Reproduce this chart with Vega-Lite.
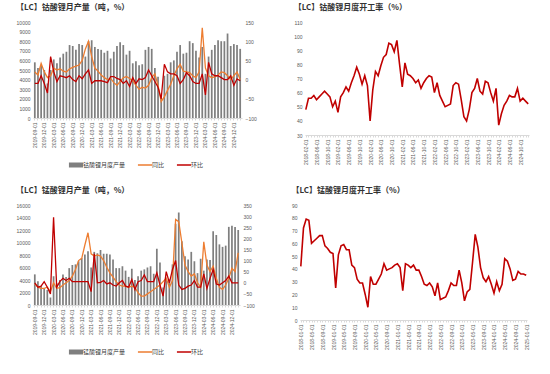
{
"$schema": "https://vega.github.io/schema/vega-lite/v6.json",
"padding": {"left": 16, "top": 4, "right": 4, "bottom": 2},
"background": "white",
"config": {
  "font": "Noto Sans CJK SC",
  "view": {"stroke": null},
  "axis": {"grid": false, "labelFont": "Liberation Sans", "labelFontSize": 5, "labelColor": "#595959", "domainColor": "#d9d9d9", "tickColor": "#d9d9d9", "tickSize": 2, "title": null},
  "axisY": {"domain": false, "ticks": false, "labelPadding": 3, "format": "d"},
  "axisX": {"labelAngle": -90, "labelPadding": 2},
  "title": {"anchor": "start", "frame": "bounds", "fontSize": 8, "fontWeight": "bold", "color": "#333333", "font": "Noto Sans CJK SC", "offset": 8},
  "legend": {"labelFont": "Noto Sans CJK SC", "labelFontSize": 6, "labelColor": "#404040"}
},
"datasets": {
"co": [
{"date":"2019-09-01","产量":5800,"同比":20,"环比":-10},
{"date":"2019-10-01","产量":5200,"同比":12,"环比":-10},
{"date":"2019-11-01","产量":5500,"同比":42,"环比":10},
{"date":"2019-12-01","产量":5000,"同比":20,"环比":-10},
{"date":"2020-01-01","产量":3600,"同比":5,"环比":-35},
{"date":"2020-02-01","产量":5000,"同比":10,"环比":60},
{"date":"2020-03-01","产量":6100,"同比":30,"环比":20},
{"date":"2020-04-01","产量":5700,"同比":25,"环比":-5},
{"date":"2020-05-01","产量":6300,"同比":28,"环比":10},
{"date":"2020-06-01","产量":6700,"同比":22,"环比":8},
{"date":"2020-07-01","产量":6900,"同比":20,"环比":5},
{"date":"2020-08-01","产量":7600,"同比":28,"环比":10},
{"date":"2020-09-01","产量":7500,"同比":32,"环比":0},
{"date":"2020-10-01","产量":7100,"同比":35,"环比":-5},
{"date":"2020-11-01","产量":7700,"同比":38,"环比":10},
{"date":"2020-12-01","产量":7600,"同比":50,"环比":2},
{"date":"2021-01-01","产量":6400,"同比":80,"环比":15},
{"date":"2021-02-01","产量":8000,"同比":100,"环比":25},
{"date":"2021-03-01","产量":8100,"同比":60,"环比":-10},
{"date":"2021-04-01","产量":7400,"同比":30,"环比":-3},
{"date":"2021-05-01","产量":7200,"同比":22,"环比":-3},
{"date":"2021-06-01","产量":7100,"同比":12,"环比":-3},
{"date":"2021-07-01","产量":6800,"同比":5,"环比":-5},
{"date":"2021-08-01","产量":7000,"同比":0,"环比":-8},
{"date":"2021-09-01","产量":6200,"同比":3,"环比":8},
{"date":"2021-10-01","产量":6900,"同比":-8,"环比":8},
{"date":"2021-11-01","产量":7500,"同比":-15,"环比":3},
{"date":"2021-12-01","产量":7900,"同比":-5,"环比":0},
{"date":"2022-01-01","产量":7600,"同比":5,"环比":-10},
{"date":"2022-02-01","产量":6600,"同比":8,"环比":-3},
{"date":"2022-03-01","产量":7000,"同比":3,"环比":-18},
{"date":"2022-04-01","产量":5700,"同比":-3,"环比":5},
{"date":"2022-05-01","产量":5900,"同比":-15,"环比":-10},
{"date":"2022-06-01","产量":5500,"同比":-25,"环比":2},
{"date":"2022-07-01","产量":5600,"同比":-20,"环比":0},
{"date":"2022-08-01","产量":7100,"同比":-22,"环比":5},
{"date":"2022-09-01","产量":7400,"同比":-15,"环比":25},
{"date":"2022-10-01","产量":7200,"同比":5,"环比":10},
{"date":"2022-11-01","产量":5200,"同比":15,"环比":-5},
{"date":"2022-12-01","产量":4300,"同比":-15,"环比":-20},
{"date":"2023-01-01","产量":2100,"同比":-57,"环比":-50},
{"date":"2023-02-01","产量":4400,"同比":-45,"环比":40},
{"date":"2023-03-01","产量":4600,"同比":-28,"环比":20},
{"date":"2023-04-01","产量":5800,"同比":-12,"环比":15},
{"date":"2023-05-01","产量":6000,"同比":10,"环比":15},
{"date":"2023-06-01","产量":6900,"同比":28,"环比":10},
{"date":"2023-07-01","产量":7600,"同比":40,"环比":-10},
{"date":"2023-08-01","产量":6700,"同比":22,"环比":0},
{"date":"2023-09-01","产量":6800,"同比":20,"环比":18},
{"date":"2023-10-01","产量":8000,"同比":18,"环比":10},
{"date":"2023-11-01","产量":7800,"同比":10,"环比":-5},
{"date":"2023-12-01","产量":7000,"同比":5,"环比":-10},
{"date":"2024-01-01","产量":6300,"同比":20,"环比":-10},
{"date":"2024-02-01","产量":7400,"同比":135,"环比":15},
{"date":"2024-03-01","产量":4600,"同比":30,"环比":-40},
{"date":"2024-04-01","产量":6400,"同比":10,"环比":45},
{"date":"2024-05-01","产量":7100,"同比":5,"环比":15},
{"date":"2024-06-01","产量":7600,"同比":8,"环比":10},
{"date":"2024-07-01","产量":8100,"同比":12,"环比":10},
{"date":"2024-08-01","产量":8000,"同比":20,"环比":5},
{"date":"2024-09-01","产量":8000,"同比":18,"环比":0},
{"date":"2024-10-01","产量":8800,"同比":10,"环比":0},
{"date":"2024-11-01","产量":7500,"同比":0,"环比":10},
{"date":"2024-12-01","产量":7700,"同比":10,"环比":-15},
{"date":"2025-01-01","产量":7600,"同比":20,"环比":2},
{"date":"2025-02-01","产量":7200,"同比":0,"环比":-3}
],
"mn": [
{"date":"2019-09-01","产量":4900,"同比":-5,"环比":0},
{"date":"2019-10-01","产量":3800,"同比":-20,"环比":-20},
{"date":"2019-11-01","产量":3000,"同比":-25,"环比":-15},
{"date":"2019-12-01","产量":2600,"同比":-25,"环比":5},
{"date":"2020-01-01","产量":2400,"同比":-20,"环比":-20},
{"date":"2020-02-01","产量":1200,"同比":-40,"环比":-50},
{"date":"2020-03-01","产量":4600,"同比":0,"环比":295},
{"date":"2020-04-01","产量":3500,"同比":-25,"环比":-20},
{"date":"2020-05-01","产量":4000,"同比":-22,"环比":5},
{"date":"2020-06-01","产量":4900,"同比":-10,"环比":20},
{"date":"2020-07-01","产量":4500,"同比":0,"环比":10},
{"date":"2020-08-01","产量":5900,"同比":10,"环比":20},
{"date":"2020-09-01","产量":6400,"同比":30,"环比":5},
{"date":"2020-10-01","产量":6500,"同比":60,"环比":5},
{"date":"2020-11-01","产量":7000,"同比":100,"环比":5},
{"date":"2020-12-01","产量":7500,"同比":110,"环比":5},
{"date":"2021-01-01","产量":8100,"同比":170,"环比":5},
{"date":"2021-02-01","产量":8600,"同比":225,"环比":5},
{"date":"2021-03-01","产量":6000,"同比":130,"环比":-40},
{"date":"2021-04-01","产量":8500,"同比":120,"环比":130},
{"date":"2021-05-01","产量":8300,"同比":125,"环比":0},
{"date":"2021-06-01","产量":8800,"同比":120,"环比":2},
{"date":"2021-07-01","产量":8200,"同比":100,"环比":10},
{"date":"2021-08-01","产量":8200,"同比":70,"环比":-5},
{"date":"2021-09-01","产量":8100,"同比":45,"环比":0},
{"date":"2021-10-01","产量":7300,"同比":25,"环比":-10},
{"date":"2021-11-01","产量":5900,"同比":5,"环比":-15},
{"date":"2021-12-01","产量":5900,"同比":-10,"环比":0},
{"date":"2022-01-01","产量":6200,"同比":-15,"环比":10},
{"date":"2022-02-01","产量":5500,"同比":-15,"环比":-15},
{"date":"2022-03-01","产量":4500,"同比":-20,"环比":-20},
{"date":"2022-04-01","产量":5800,"同比":-15,"环比":15},
{"date":"2022-05-01","产量":4000,"同比":-20,"环比":-30},
{"date":"2022-06-01","产量":4600,"同比":-45,"环比":5},
{"date":"2022-07-01","产量":5500,"同比":-60,"环比":10},
{"date":"2022-08-01","产量":5700,"同比":-60,"环比":35},
{"date":"2022-09-01","产量":6000,"同比":-50,"环比":5},
{"date":"2022-10-01","产量":6200,"同比":-40,"环比":5},
{"date":"2022-11-01","产量":5000,"同比":-30,"环比":5},
{"date":"2022-12-01","产量":9000,"同比":-20,"环比":45},
{"date":"2023-01-01","产量":6800,"同比":-10,"环比":-10},
{"date":"2023-02-01","产量":2800,"同比":5,"环比":-60},
{"date":"2023-03-01","产量":4200,"同比":20,"环比":50},
{"date":"2023-04-01","产量":4100,"同比":-20,"环比":0},
{"date":"2023-05-01","产量":6500,"同比":10,"环比":60},
{"date":"2023-06-01","产量":13000,"同比":285,"环比":100},
{"date":"2023-07-01","产量":14800,"同比":275,"环比":-10},
{"date":"2023-08-01","产量":10200,"同比":180,"环比":-30},
{"date":"2023-09-01","产量":7800,"同比":80,"环比":-25},
{"date":"2023-10-01","产量":7300,"同比":50,"环比":-15},
{"date":"2023-11-01","产量":8500,"同比":30,"环比":-10},
{"date":"2023-12-01","产量":7000,"同比":40,"环比":10},
{"date":"2024-01-01","产量":5100,"同比":0,"环比":-20},
{"date":"2024-02-01","产量":7400,"同比":-20,"环比":-20},
{"date":"2024-03-01","产量":5500,"同比":184,"环比":40},
{"date":"2024-04-01","产量":7300,"同比":80,"环比":-25},
{"date":"2024-05-01","产量":7200,"同比":50,"环比":20},
{"date":"2024-06-01","产量":11800,"同比":75,"环比":60},
{"date":"2024-07-01","产量":11200,"同比":20,"环比":-5},
{"date":"2024-08-01","产量":9700,"同比":-20,"环比":-10},
{"date":"2024-09-01","产量":9300,"同比":-30,"环比":0},
{"date":"2024-10-01","产量":9500,"同比":-10,"环比":10},
{"date":"2024-11-01","产量":12500,"同比":20,"环比":30},
{"date":"2024-12-01","产量":12700,"同比":65,"环比":0},
{"date":"2025-01-01","产量":12500,"同比":50,"环比":0},
{"date":"2025-02-01","产量":12000,"同比":135,"环比":0}
],
"cor": [
{"date":"2018-02-01","rate":48},{"date":"2018-03-01","rate":56},{"date":"2018-04-01","rate":56},{"date":"2018-05-01","rate":58},{"date":"2018-06-01","rate":55},{"date":"2018-07-01","rate":57},{"date":"2018-08-01","rate":59},{"date":"2018-09-01","rate":61},{"date":"2018-10-01","rate":59},{"date":"2018-11-01","rate":57},{"date":"2018-12-01","rate":50},
{"date":"2019-01-01","rate":54},{"date":"2019-02-01","rate":46},{"date":"2019-03-01","rate":57},{"date":"2019-04-01","rate":60},{"date":"2019-05-01","rate":64},{"date":"2019-06-01","rate":61},{"date":"2019-07-01","rate":67},{"date":"2019-08-01","rate":72},{"date":"2019-09-01","rate":78},{"date":"2019-10-01","rate":73},{"date":"2019-11-01","rate":66},{"date":"2019-12-01","rate":72},
{"date":"2020-01-01","rate":65},{"date":"2020-02-01","rate":40},{"date":"2020-03-01","rate":62},{"date":"2020-04-01","rate":75},{"date":"2020-05-01","rate":72},{"date":"2020-06-01","rate":79},{"date":"2020-07-01","rate":85},{"date":"2020-08-01","rate":87},{"date":"2020-09-01","rate":95},{"date":"2020-10-01","rate":94},{"date":"2020-11-01","rate":89},{"date":"2020-12-01","rate":97},
{"date":"2021-01-01","rate":80},{"date":"2021-02-01","rate":64},{"date":"2021-03-01","rate":81},{"date":"2021-04-01","rate":73},{"date":"2021-05-01","rate":72},{"date":"2021-06-01","rate":70},{"date":"2021-07-01","rate":67},{"date":"2021-08-01","rate":69},{"date":"2021-09-01","rate":63},{"date":"2021-10-01","rate":67},{"date":"2021-11-01","rate":70},{"date":"2021-12-01","rate":72},
{"date":"2022-01-01","rate":71},{"date":"2022-02-01","rate":60},{"date":"2022-03-01","rate":67},{"date":"2022-04-01","rate":58},{"date":"2022-05-01","rate":54},{"date":"2022-06-01","rate":50},{"date":"2022-07-01","rate":51},{"date":"2022-08-01","rate":52},{"date":"2022-09-01","rate":65},{"date":"2022-10-01","rate":67},{"date":"2022-11-01","rate":66},{"date":"2022-12-01","rate":55},
{"date":"2023-01-01","rate":43},{"date":"2023-02-01","rate":40},{"date":"2023-03-01","rate":48},{"date":"2023-04-01","rate":60},{"date":"2023-05-01","rate":63},{"date":"2023-06-01","rate":70},{"date":"2023-07-01","rate":61},{"date":"2023-08-01","rate":59},{"date":"2023-09-01","rate":68},{"date":"2023-10-01","rate":67},{"date":"2023-11-01","rate":60},{"date":"2023-12-01","rate":54},
{"date":"2024-01-01","rate":63},{"date":"2024-02-01","rate":37},{"date":"2024-03-01","rate":45},{"date":"2024-04-01","rate":51},{"date":"2024-05-01","rate":54},{"date":"2024-06-01","rate":58},{"date":"2024-07-01","rate":57},{"date":"2024-08-01","rate":57},{"date":"2024-09-01","rate":63},{"date":"2024-10-01","rate":54},{"date":"2024-11-01","rate":56},{"date":"2024-12-01","rate":54},
{"date":"2025-01-01","rate":52}
],
"mnr": [
{"date":"2018-01-01","rate":42},{"date":"2018-02-01","rate":72},{"date":"2018-03-01","rate":79},{"date":"2018-04-01","rate":78},{"date":"2018-05-01","rate":60},{"date":"2018-06-01","rate":62},{"date":"2018-07-01","rate":64},{"date":"2018-08-01","rate":66},{"date":"2018-09-01","rate":66},{"date":"2018-10-01","rate":58},{"date":"2018-11-01","rate":56},{"date":"2018-12-01","rate":53},
{"date":"2019-01-01","rate":52},{"date":"2019-02-01","rate":25},{"date":"2019-03-01","rate":51},{"date":"2019-04-01","rate":58},{"date":"2019-05-01","rate":59},{"date":"2019-06-01","rate":55},{"date":"2019-07-01","rate":55},{"date":"2019-08-01","rate":43},{"date":"2019-09-01","rate":41},{"date":"2019-10-01","rate":32},{"date":"2019-11-01","rate":29},{"date":"2019-12-01","rate":29},
{"date":"2020-01-01","rate":20},{"date":"2020-02-01","rate":10},{"date":"2020-03-01","rate":34},{"date":"2020-04-01","rate":28},{"date":"2020-05-01","rate":28},{"date":"2020-06-01","rate":32},{"date":"2020-07-01","rate":36},{"date":"2020-08-01","rate":44},{"date":"2020-09-01","rate":39},{"date":"2020-10-01","rate":40},{"date":"2020-11-01","rate":41},{"date":"2020-12-01","rate":43},
{"date":"2021-01-01","rate":44},{"date":"2021-02-01","rate":41},{"date":"2021-03-01","rate":23},{"date":"2021-04-01","rate":44},{"date":"2021-05-01","rate":43},{"date":"2021-06-01","rate":41},{"date":"2021-07-01","rate":43},{"date":"2021-08-01","rate":39},{"date":"2021-09-01","rate":39},{"date":"2021-10-01","rate":34},{"date":"2021-11-01","rate":28},{"date":"2021-12-01","rate":27},
{"date":"2022-01-01","rate":29},{"date":"2022-02-01","rate":26},{"date":"2022-03-01","rate":19},{"date":"2022-04-01","rate":29},{"date":"2022-05-01","rate":16},{"date":"2022-06-01","rate":17},{"date":"2022-07-01","rate":18},{"date":"2022-08-01","rate":23},{"date":"2022-09-01","rate":29},{"date":"2022-10-01","rate":27},{"date":"2022-11-01","rate":27},{"date":"2022-12-01","rate":39},
{"date":"2023-01-01","rate":29},{"date":"2023-02-01","rate":15},{"date":"2023-03-01","rate":22},{"date":"2023-04-01","rate":24},{"date":"2023-05-01","rate":45},{"date":"2023-06-01","rate":67},{"date":"2023-07-01","rate":57},{"date":"2023-08-01","rate":41},{"date":"2023-09-01","rate":33},{"date":"2023-10-01","rate":30},{"date":"2023-11-01","rate":34},{"date":"2023-12-01","rate":28},
{"date":"2024-01-01","rate":21},{"date":"2024-02-01","rate":30},{"date":"2024-03-01","rate":23},{"date":"2024-04-01","rate":28},{"date":"2024-05-01","rate":48},{"date":"2024-06-01","rate":46},{"date":"2024-07-01","rate":40},{"date":"2024-08-01","rate":31},{"date":"2024-09-01","rate":32},{"date":"2024-10-01","rate":38},{"date":"2024-11-01","rate":36},{"date":"2024-12-01","rate":36},
{"date":"2025-01-01","rate":35}
]
},
"resolve": {"scale": {"color": "independent", "x": "independent", "y": "independent"}, "legend": {"color": "independent"}},
"spacing": 12,
"vconcat": [
{
 "hconcat": [
 {
  "width": 209, "height": 96,
  "title": {"text": "【LC】钴酸锂月产量（吨，%）"},
  "data": {"name": "co"},
  "encoding": {"x": {"field": "date", "type": "ordinal", "scale": {"paddingInner": 0.45, "paddingOuter": 0.3}, "axis": {"labelExpr": "toNumber(substring(datum.value,5,7)) % 3 == 0 ? datum.value : ''"}}},
  "layer": [
   {"mark": {"type": "bar"},
    "encoding": {
     "y": {"field": "产量", "type": "quantitative", "scale": {"domain": [0, 10000]}, "axis": {"orient": "left", "values": [0,1000,2000,3000,4000,5000,6000,7000,8000,9000,10000]}},
     "color": {"datum": "钴酸锂月度产量", "type": "nominal", "scale": {"domain": ["钴酸锂月度产量", "同比", "环比"], "range": ["#7f7f7f", "#ED7D31", "#C00000"]},
      "legend": {"orient": "none", "legendX": 40, "legendY": 140, "direction": "horizontal", "gridAlign": "none", "title": null, "symbolType": "stroke", "symbolSize": 200, "columnPadding": 8,
       "encode": {"symbols": {"update": {"strokeWidth": {"signal": "datum.value === '钴酸锂月度产量' ? 5 : 1.5"}, "stroke": {"signal": "datum.value === '钴酸锂月度产量' ? '#7f7f7f' : datum.value === '同比' ? '#ED7D31' : '#C00000'"}}}}}}
    }},
   {"transform": [{"fold": ["同比", "环比"], "as": ["key", "value"]}],
    "mark": {"type": "line", "strokeWidth": 1.3},
    "encoding": {
     "y": {"field": "value", "type": "quantitative", "scale": {"domain": [-100, 150]}, "axis": {"orient": "right", "values": [-100,-50,0,50,100,150]}},
     "color": {"field": "key", "type": "nominal", "legend": null}
    }}
  ],
  "resolve": {"scale": {"y": "independent"}}
 },
 {
  "width": 224, "height": 113,
  "title": {"text": "【LC】钴酸锂月度开工率（%）"},
  "data": {"name": "cor"},
  "mark": {"type": "line", "color": "#C00000", "strokeWidth": 1.6},
  "encoding": {
   "x": {"field": "date", "type": "ordinal", "scale": {"padding": 0.3}, "axis": {"labelExpr": "toNumber(substring(datum.value,5,7)) % 4 == 2 ? datum.value : ''"}},
   "y": {"field": "rate", "type": "quantitative", "scale": {"domain": [30, 110]}, "axis": {"values": [30,40,50,60,70,80,90,100,110]}}
  }
 }
 ],
 "spacing": 36,
 "resolve": {"scale": {"color": "independent", "x": "independent", "y": "independent"}, "legend": {"color": "independent"}}
},
{
 "hconcat": [
 {
  "width": 207, "height": 100,
  "title": {"text": "【LC】锰酸锂月产量（吨，%）"},
  "data": {"name": "mn"},
  "encoding": {"x": {"field": "date", "type": "ordinal", "scale": {"paddingInner": 0.45, "paddingOuter": 0.3}, "axis": {"labelExpr": "toNumber(substring(datum.value,5,7)) % 3 == 0 ? datum.value : ''"}}},
  "layer": [
   {"mark": {"type": "bar"},
    "encoding": {
     "y": {"field": "产量", "type": "quantitative", "scale": {"domain": [0, 16000]}, "axis": {"orient": "left", "values": [0,2000,4000,6000,8000,10000,12000,14000,16000]}},
     "color": {"datum": "锰酸锂月度产量", "type": "nominal", "scale": {"domain": ["锰酸锂月度产量", "同比", "环比"], "range": ["#7f7f7f", "#ED7D31", "#C00000"]},
      "legend": {"orient": "none", "legendX": 40, "legendY": 144, "direction": "horizontal", "gridAlign": "none", "title": null, "symbolType": "stroke", "symbolSize": 200, "columnPadding": 8,
       "encode": {"symbols": {"update": {"strokeWidth": {"signal": "datum.value === '锰酸锂月度产量' ? 5 : 1.5"}, "stroke": {"signal": "datum.value === '锰酸锂月度产量' ? '#7f7f7f' : datum.value === '同比' ? '#ED7D31' : '#C00000'"}}}}}}
    }},
   {"transform": [{"fold": ["同比", "环比"], "as": ["key", "value"]}],
    "mark": {"type": "line", "strokeWidth": 1.3},
    "encoding": {
     "y": {"field": "value", "type": "quantitative", "scale": {"domain": [-100, 350]}, "axis": {"orient": "right", "values": [-100,-50,0,50,100,150,200,250,300,350]}},
     "color": {"field": "key", "type": "nominal", "legend": null}
    }}
  ],
  "resolve": {"scale": {"y": "independent"}}
 },
 {
  "width": 227, "height": 115,
  "title": {"text": "【LC】锰酸锂月度开工率（%）"},
  "data": {"name": "mnr"},
  "mark": {"type": "line", "color": "#C00000", "strokeWidth": 1.6},
  "encoding": {
   "x": {"field": "date", "type": "ordinal", "scale": {"padding": 0.3}, "axis": {"labelExpr": "toNumber(substring(datum.value,5,7)) % 4 == 1 ? datum.value : ''"}},
   "y": {"field": "rate", "type": "quantitative", "scale": {"domain": [0, 90]}, "axis": {"values": [0,10,20,30,40,50,60,70,80,90]}}
  }
 }
 ],
 "spacing": 36,
 "resolve": {"scale": {"color": "independent", "x": "independent", "y": "independent"}, "legend": {"color": "independent"}}
}
]
}
